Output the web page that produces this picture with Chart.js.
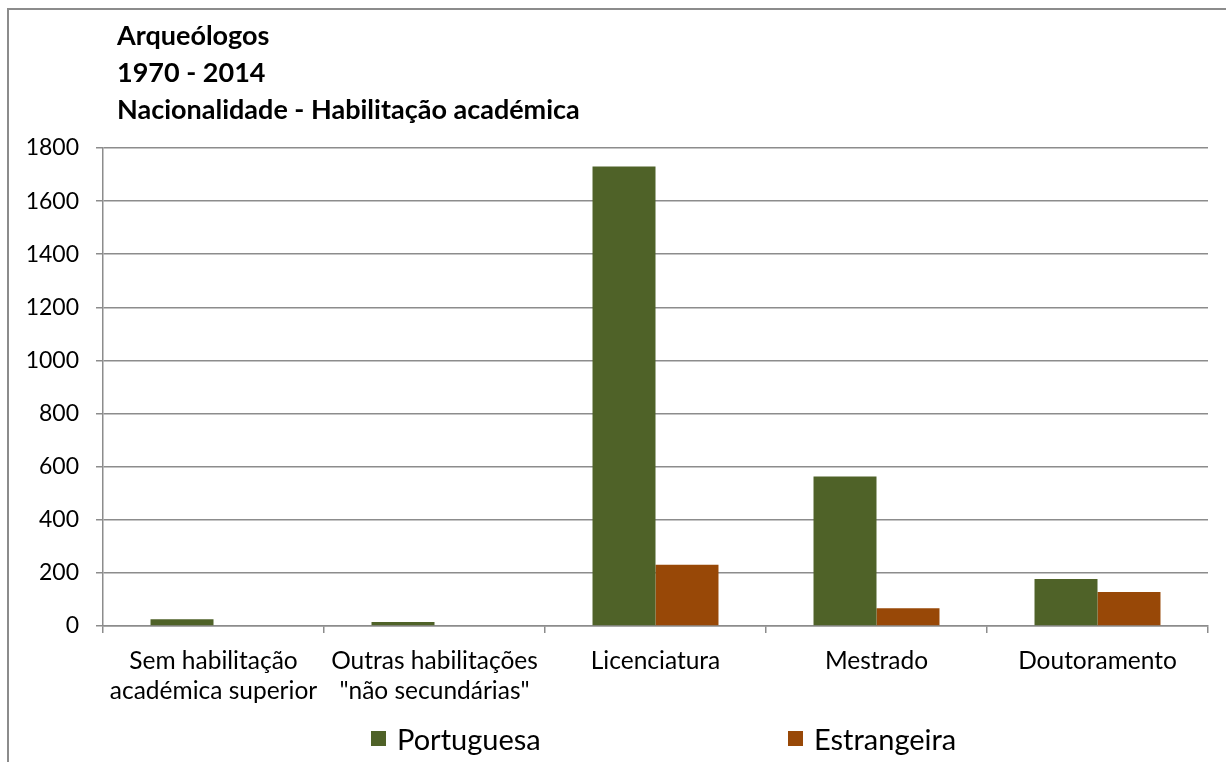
<!DOCTYPE html>
<html>
<head>
<meta charset="utf-8">
<script src="https://cdn.jsdelivr.net/npm/chart.js@4.4.0/dist/chart.umd.min.js"></script>
<style>
  html, body { margin: 0; padding: 0; background: #fff; }
  body { width: 1226px; height: 762px; position: relative; overflow: hidden; font-family: Lato, "Open Sans", sans-serif; }
  #frame { position: absolute; left: 7px; top: 8px; width: 1300px; height: 900px; border: 2px solid #8c8c8c; box-sizing: border-box; pointer-events: none; }
  #wrap { position: absolute; left: 0; top: 0; width: 1226px; height: 762px; }
  #title { position: absolute; left: 117px; top: 16px; font-weight: bold; font-size: 27px; line-height: 37px; color: #000; }
  .leg { position: absolute; top: 721px; height: 34px; display: flex; align-items: center; font-size: 29px; color: #000; }
  .leg span.box { display: inline-block; width: 15px; height: 15px; margin-right: 11px; }
</style>
</head>
<body>
<div id="wrap"><canvas id="chart" width="1226" height="762"></canvas></div>
<div id="frame"></div>
<div id="title">Arqueólogos<br>1970 - 2014<br>Nacionalidade - Habilitação académica</div>
<div class="leg" style="left:371px"><span class="box" style="background:#4f6228"></span>Portuguesa</div>
<div class="leg" style="left:788px"><span class="box" style="background:#984807"></span>Estrangeira</div>
<script>
// Arqueólogos 1970-2014, nacionalidade por habilitação académica

const categories = [
  ['Sem habilitação', 'académica superior'],
  ['Outras habilitações', '"não secundárias"'],
  'Licenciatura',
  'Mestrado',
  'Doutoramento'
];
const portuguesa = [25, 15, 1730, 563, 177];
const estrangeira = [0, 0, 231, 67, 128];
const yTicks = [0, 200, 400, 600, 800, 1000, 1200, 1400, 1600, 1800];

const gridColor = '#8c8c8c';
const fontFamily = 'Lato, "Open Sans", sans-serif';

new Chart(document.getElementById('chart'), {
  type: 'bar',
  data: {
    labels: categories,
    datasets: [{
      label: 'Portuguesa',
      data: portuguesa,
      backgroundColor: '#4f6228',
      categoryPercentage: 0.57,
      barPercentage: 1.0
    }, {
      label: 'Estrangeira',
      data: estrangeira,
      backgroundColor: '#984807',
      categoryPercentage: 0.57,
      barPercentage: 1.0
    }]
  },
  options: {
    responsive: false,
    animation: false,
    layout: { padding: { top: 148, right: 18, bottom: 36, left: 0 } },
    plugins: {
      legend: { display: false },
      title: { display: false },
      tooltip: { enabled: false }
    },
    scales: {
      x: {
        grid: { drawOnChartArea: false, drawTicks: true, tickLength: 7, color: gridColor, lineWidth: 1.5, offset: true },
        border: { color: gridColor, width: 1.5 },
        ticks: { color: '#000', font: { family: fontFamily, size: 24.5, lineHeight: 1.22 }, padding: 13, maxRotation: 0, autoSkip: false },
        afterFit: (scale) => { scale.height = 100; }
      },
      y: {
        min: 0,
        max: 1800,
        afterBuildTicks: (scale) => { scale.ticks = yTicks.map(v => ({ value: v })); },
        grid: { color: gridColor, lineWidth: 1.5, tickLength: 7 },
        border: { color: gridColor, width: 1.5 },
        ticks: { color: '#000', font: { family: fontFamily, size: 23 }, padding: 17, callback: (v) => String(v) },
        afterFit: (scale) => { scale.width = 103; }
      }
    }
  }
});
</script>
</body>
</html>
